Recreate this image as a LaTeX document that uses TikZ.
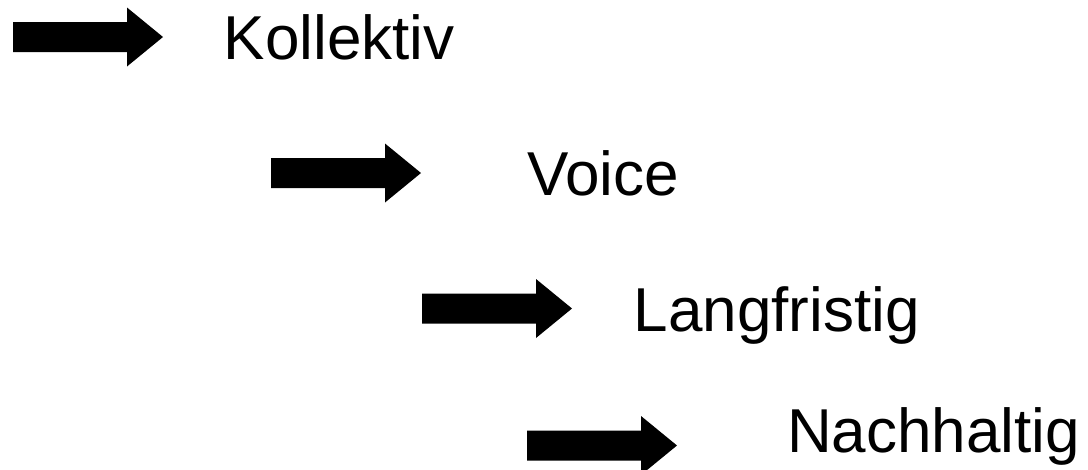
\documentclass[tikz,border=0pt]{standalone}
\usepackage{fontspec}
\setmainfont{Liberation Sans}
\begin{document}
\begin{tikzpicture}[x=1pt,y=-1pt,
  label/.style={anchor=base west,inner sep=0pt,font=\fontsize{62}{74}\selectfont},
  blockarrow/.pic={
    \fill[black] (0,-15) -- (114,-15) -- (114,-29.5) -- (150,0)
      -- (114,29.5) -- (114,15) -- (0,15) -- cycle;
  }]
  \clip (0,0) rectangle (1088,469);
  \fill[white] (0,0) rectangle (1088,469);

  % arrows (left end of shaft, vertical centre)
  \pic (a1) at (13,37) {blockarrow};
  \pic (a2) at (271,173) {blockarrow};
  \pic (a3) at (422,308.5) {blockarrow};
  \pic (a4) at (527,445.5) {blockarrow};

  % labels
  \node[label] (t1) at (223.5,59) {Kollektiv};
  \node[label] (t2) at (527,195) {Voice};
  \node[label] (t3) at (633.5,331) {Langfristig};
  \node[label] (t4) at (787,452) {Nachhaltig};
\end{tikzpicture}
\end{document}
